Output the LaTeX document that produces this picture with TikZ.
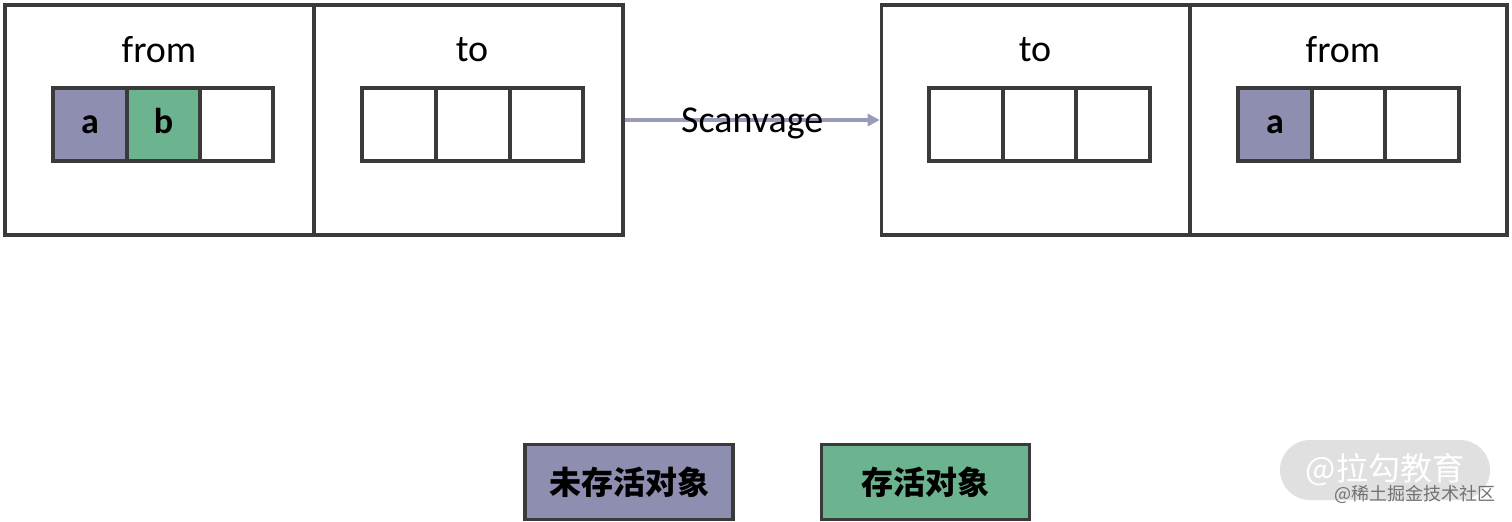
\documentclass[tikz,border=0pt]{standalone}
\usepackage{fontspec}
\setmainfont{Carlito}
\newfontfamily\cjk{Noto Sans CJK SC}
\usetikzlibrary{arrows.meta, positioning, shadows}
\definecolor{edgegray}{HTML}{3A3A3A}
\definecolor{deadobj}{HTML}{8E8FB0}
\definecolor{liveobj}{HTML}{6CB48F}
\definecolor{arrowlav}{HTML}{9A9AB9}

\begin{document}
\begin{tikzpicture}[x=0.5pt, y=-0.5pt,
    half/.style={draw=edgegray, line width=1.8pt, fill=white, minimum width=154.5pt, minimum height=115pt, inner sep=0pt,
      drop shadow={shadow xshift=1pt, shadow yshift=-1pt, opacity=0.2}},
    cell/.style={draw=edgegray, line width=1.8pt, minimum width=36.75pt, minimum height=36.5pt, inner sep=0pt,
      text height=13pt, text depth=4pt, font=\bfseries\fontsize{18}{20}\selectfont},
    title/.style={font=\fontsize{19}{22}\selectfont},
    legend/.style={draw=edgegray, line width=1.8pt, minimum width=104pt, minimum height=37.5pt, inner sep=0pt,
      font=\cjk\bfseries\fontsize{16}{18}\selectfont}]

    \useasboundingbox (0,0) rectangle (1512,521);

    % --- before: from / to ---
    \node[half] (lfrom) at (159.5,120) {};
    \node[half] (lto) at (468.5,120) {};
    \node[title] (lfromtxt) at (159,50) {from};
    \node[title] (ltotxt) at (472,50) {to};

    \node[cell, fill=deadobj] (lf1) at (90,124.5) {a};
    \node[cell, fill=liveobj] (lf2) at (163.5,124.5) {b};
    \node[cell] (lf3) at (236.5,124.5) {};
    \node[cell] (lt1) at (399,124.5) {};
    \node[cell] (lt2) at (473,124.5) {};
    \node[cell] (lt3) at (546.5,124.5) {};

    % --- after: to / from ---
    \node[half] (rto) at (1036,120) {};
    \node[half, minimum width=158.5pt] (rfrom) at (1348.5,120) {};
    \node[title] (rtotxt) at (1035,50) {to};
    \node[title] (rfromtxt) at (1343,50) {from};

    \node[cell] (rt1) at (966,124.5) {};
    \node[cell] (rt2) at (1039.5,124.5) {};
    \node[cell] (rt3) at (1113,124.5) {};
    \node[cell, fill=deadobj] (rf1) at (1275,124.5) {a};
    \node[cell] (rf2) at (1348.5,124.5) {};
    \node[cell] (rf3) at (1422,124.5) {};

    \draw[-{Triangle[length=6pt, width=6pt]}, arrowlav, line width=2pt] (lto.east) -- (rto.west)
        node[midway, title, text=black, yshift=-1.5pt] {Scanvage};

    % --- legend ---
    \node[legend, fill=deadobj] (deadkey) at (629,482) {未存活对象};
    \node[legend, fill=liveobj] (livekey) at (925.5,482) {存活对象};

    % watermark
    \node[fill=black!12, rounded corners=15pt, minimum width=105pt, minimum height=30pt, text=white,
      font=\cjk\fontsize{16}{18}\selectfont] (mark) at (1385,470) {@拉勾教育};
    \node[text=black!55, font=\cjk\fontsize{9}{10}\selectfont] (marksub) at (1415,494) {@稀土掘金技术社区};
\end{tikzpicture}
\end{document}
